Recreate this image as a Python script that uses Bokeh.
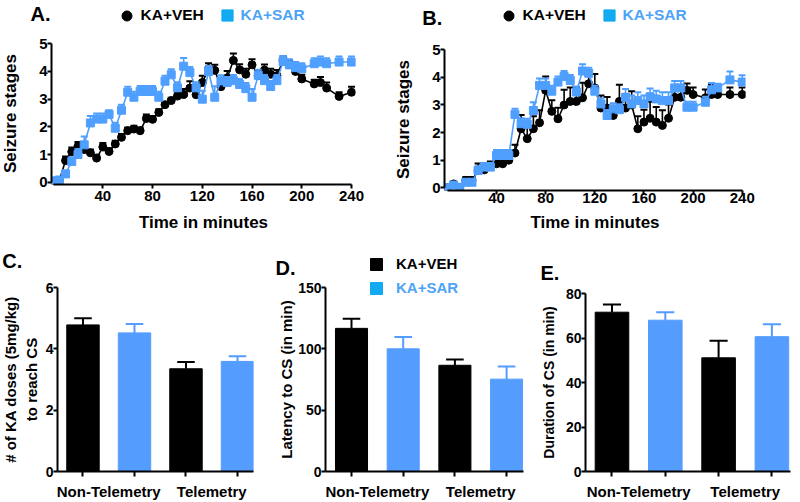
from bokeh.plotting import figure
from bokeh.models import Range1d, FixedTicker, Label, Legend, LegendItem, ColumnDataSource
from bokeh.embed import file_html
from bokeh.resources import INLINE

FONT = "Liberation Sans"
BLACK = "#000000"
BLUE_LINE = "#4F9FFF"
BLUE_BAR = "#559CFF"
BLUE_KEY = "#12AAF0"
BLUE_TEXT = "#4DA3F5"

# ---------------- data ----------------
times = [0, 5, 10, 15, 20, 25, 30, 35, 40, 45, 50, 55, 60, 65, 70, 75, 80, 85, 90, 95,
         100, 105, 110, 115, 120, 125, 130, 135, 140, 145, 150, 155, 160, 165, 170, 175,
         180, 185, 190, 195, 200, 210, 215, 220, 230, 240]
time_ticks = [40, 80, 120, 160, 200, 240]
stage_ticks = [0, 1, 2, 3, 4, 5]

a_veh = [0.0, 0.06, 0.78, 1.10, 1.30, 1.18, 1.06, 0.87, 1.27, 1.11, 1.38, 1.62, 1.86, 1.92, 1.86,
         2.30, 2.27, 2.52, 2.80, 2.95, 3.11, 3.17, 3.40, 3.16, 3.60, 4.10, 4.04, 3.45, 3.77, 4.40,
         4.06, 3.90, 4.24, 3.85, 4.05, 3.90, 3.85, 4.40, 4.25, 4.00, 3.73, 3.55, 3.60, 3.40, 3.10, 3.25]
a_veh_err = [0.0, 0.05, 0.15, 0.15, 0.15, 0.15, 0.12, 0.12, 0.15, 0.12, 0.12, 0.12, 0.12, 0.12, 0.12,
             0.15, 0.12, 0.12, 0.1, 0.1, 0.12, 0.2, 0.25, 0.15, 0.25, 0.2, 0.2, 0.15, 0.25, 0.25,
             0.2, 0.2, 0.2, 0.2, 0.2, 0.2, 0.2, 0.15, 0.15, 0.15, 0.15, 0.15, 0.2, 0.2, 0.15, 0.2]
a_sar = [0.05, 0.08, 0.30, 0.75, 1.00, 1.35, 2.14, 2.28, 2.28, 2.45, 1.95, 2.60, 3.25, 3.07, 3.28,
         3.28, 3.28, 3.07, 3.65, 3.88, 3.41, 4.19, 3.96, 3.41, 3.00, 4.00, 3.07, 3.66, 3.60, 3.67,
         3.53, 3.38, 3.07, 3.86, 3.67, 3.46, 3.67, 4.36, 4.24, 4.14, 4.10, 4.28, 4.34, 4.28, 4.34, 4.34]
a_sar_err = [0.03, 0.05, 0.12, 0.15, 0.2, 0.3, 0.25, 0.2, 0.2, 0.15, 0.2, 0.2, 0.2, 0.2, 0.2,
             0.2, 0.2, 0.2, 0.2, 0.2, 0.2, 0.3, 0.2, 0.2, 0.3, 0.2, 0.4, 0.2, 0.2, 0.2,
             0.2, 0.2, 0.3, 0.2, 0.2, 0.2, 0.2, 0.2, 0.2, 0.2, 0.2, 0.2, 0.2, 0.2, 0.2, 0.2]

b_veh = [0.0, 0.14, 0.0, 0.27, 0.27, 0.63, 0.65, 0.77, 0.87, 0.87, 1.0, 1.26, 2.14, 1.78, 2.14,
         2.36, 3.53, 2.77, 2.5, 3.0, 3.13, 3.13, 3.26, 3.77, 3.62, 2.89, 2.89, 2.62, 3.13, 2.89,
         3.0, 2.14, 2.38, 2.52, 2.38, 2.26, 2.52, 3.28, 3.28, 3.53, 3.38, 3.26, 3.38, 3.38, 3.38, 3.38]
b_veh_err = [0.0, 0.08, 0.0, 0.12, 0.12, 0.25, 0.2, 0.18, 0.15, 0.15, 0.15, 0.3, 0.5, 0.45, 0.45,
             0.45, 0.5, 0.4, 0.4, 0.55, 0.5, 0.5, 0.55, 0.5, 0.5, 0.45, 0.4, 0.2, 0.6, 0.5,
             0.5, 0.45, 0.45, 0.6, 0.55, 0.55, 0.5, 0.25, 0.25, 0.25, 0.25, 0.3, 0.35, 0.35, 0.25, 0.25]
b_sar = [0.0, 0.1, 0.02, 0.2, 0.2, 0.63, 0.75, 0.75, 1.17, 1.17, 1.17, 2.66, 2.32, 2.3, 2.8,
         3.71, 3.71, 3.5, 3.83, 4.03, 3.89, 3.47, 4.23, 4.15, 3.5, 3.04, 2.62, 2.86, 2.83, 3.28,
         3.04, 3.16, 3.04, 3.3, 3.22, 3.16, 3.16, 3.62, 3.62, 2.92, 2.92, 3.1, 3.55, 3.62, 3.91, 3.83]
b_sar_err = [0.02, 0.05, 0.05, 0.1, 0.1, 0.15, 0.15, 0.15, 0.2, 0.2, 0.2, 0.2, 0.2, 0.2, 0.3,
             0.25, 0.25, 0.2, 0.2, 0.2, 0.2, 0.2, 0.25, 0.2, 0.2, 0.2, 0.2, 0.2, 0.2, 0.3,
             0.3, 0.3, 0.3, 0.3, 0.3, 0.3, 0.3, 0.25, 0.25, 0.2, 0.2, 0.2, 0.25, 0.15, 0.3, 0.25]

groups = ["Non-Telemetry", "Telemetry"]
series_names = ["KA+VEH", "KA+SAR"]
c_veh = [4.78, 3.35]
c_veh_err = [0.22, 0.22]
c_sar = [4.52, 3.59]
c_sar_err = [0.29, 0.17]
c_ticks = [0, 2, 4, 6]

d_veh = [116.7, 86.6]
d_veh_err = [7.8, 4.8]
d_sar = [100.0, 75.3]
d_sar_err = [9.7, 10.2]
d_ticks = [0, 50, 100, 150]

e_veh = [71.6, 51.1]
e_veh_err = [3.5, 7.7]
e_sar = [68.0, 60.6]
e_sar_err = [3.6, 5.6]
e_ticks = [0, 20, 40, 60, 80]

ML, MT = 120, 60  # generous left/top borders; figures are placed so frames land where wanted


def base_fig(frame, right, bottom, xr, yr):
    fl, ft, fw, fh = frame
    p = figure(width=ML + fw + right, height=MT + fh + bottom, x_range=xr, y_range=yr,
               output_backend="svg", toolbar_location=None, title=None,
               min_border_left=ML, min_border_right=right, min_border_top=MT,
               min_border_bottom=bottom,
               styles={"position": "absolute", "left": f"{fl - ML}px", "top": f"{ft - MT}px"})
    p.xgrid.visible = False
    p.ygrid.visible = False
    p.outline_line_color = None
    p.background_fill_alpha = 0
    p.border_fill_alpha = 0
    for ax in (p.xaxis[0], p.yaxis[0]):
        ax.axis_line_width = 2
        ax.axis_line_color = BLACK
        ax.major_tick_line_width = 2
        ax.major_tick_line_color = BLACK
        ax.major_tick_in = 0
        ax.major_tick_out = 4
        ax.minor_tick_line_color = None
        ax.major_label_text_font = FONT
        ax.major_label_text_font_style = "bold"
        ax.major_label_text_color = BLACK
        ax.axis_label_text_font = FONT
        ax.axis_label_text_font_style = "bold"
        ax.axis_label_text_color = BLACK
    return p


def time_panel(frame, xr, yr, veh, veh_err, sar, sar_err, tick_stand, lab_stand, ylab_stand):
    p = base_fig(frame, 45, 80, xr, yr)
    p.xaxis.ticker = FixedTicker(ticks=time_ticks)
    p.yaxis.ticker = FixedTicker(ticks=stage_ticks)
    p.xaxis.bounds = (0, 240)
    p.yaxis.bounds = (0, 5)
    p.xaxis.major_label_text_font_size = "15px"
    p.yaxis.major_label_text_font_size = "15px"
    p.xaxis.axis_label = "Time in minutes"
    p.yaxis.axis_label = "Seizure stages"
    p.xaxis.axis_label_text_font_size = "17px"
    p.yaxis.axis_label_text_font_size = "17px"
    p.xaxis.major_label_standoff = tick_stand
    p.xaxis.axis_label_standoff = lab_stand
    p.yaxis.major_label_standoff = 0
    p.yaxis.axis_label_standoff = ylab_stand
    for vals, errs, col, mk in ((veh, veh_err, BLACK, "circle"), (sar, sar_err, BLUE_LINE, "square")):
        tops = [v + e for v, e in zip(vals, errs)]
        p.segment(times, vals, times, tops, line_color=col, line_width=1.6)
        p.scatter(times, tops, marker="dash", size=7, line_color=col, line_width=2)
        p.line(times, vals, line_color=col, line_width=1.6)
        p.scatter(times, vals, marker=mk, size=8, fill_color=col, line_color=col)
    return p


def bar_panel(frame, right, xr, yr, veh, veh_err, sar, sar_err, ticks,
              ylabel, ylab_size, ylab_stand, bw):
    p = base_fig(frame, right, 502 - frame[1] - frame[3], xr, yr)
    pos = [0, 1, 2, 3]
    vals = [veh[0], sar[0], veh[1], sar[1]]
    errs = [veh_err[0], sar_err[0], veh_err[1], sar_err[1]]
    cols = [BLACK, BLUE_BAR, BLACK, BLUE_BAR]
    tops = [v + e for v, e in zip(vals, errs)]
    p.segment(pos, vals, pos, tops, line_color=cols, line_width=2)
    p.segment([x - 0.17 for x in pos], tops, [x + 0.17 for x in pos], tops, line_color=cols, line_width=2)
    p.vbar(x=pos, top=vals, width=bw, fill_color=cols, line_color=cols)
    p.xaxis.ticker = FixedTicker(ticks=[0.5, 2.5], minor_ticks=pos)
    p.xaxis.major_label_overrides = {0.5: groups[0], 2.5: groups[1]}
    p.xaxis.major_tick_out = 0
    p.xaxis.major_tick_line_color = None
    p.xaxis.minor_tick_line_color = BLACK
    p.xaxis.minor_tick_line_width = 2
    p.xaxis.minor_tick_out = 5
    p.xaxis.minor_tick_in = 0
    p.xaxis.major_label_standoff = 6
    p.xaxis.major_label_text_font_size = "15px"
    p.yaxis.ticker = FixedTicker(ticks=ticks)
    p.yaxis.major_label_text_font_size = "14px"
    p.yaxis.major_label_standoff = 0
    p.yaxis.axis_label = ylabel
    p.yaxis.axis_label_text_font_size = ylab_size
    p.yaxis.axis_label_standoff = ylab_stand
    return p


# frames given as (left, top, width, height) in page pixels
pA = time_panel((51, 42, 304, 142), Range1d(-1.29, 243.2), Range1d(-0.083, 5.047),
                a_veh, a_veh_err, a_sar, a_sar_err, 2, 9, 16)
pB = time_panel((444, 48, 301, 142), Range1d(-2.36, 242.66), Range1d(-0.098, 5.047),
                b_veh, b_veh_err, b_sar, b_sar_err, -2, 7, 16)

pC = bar_panel((57, 287, 196, 186), 15, Range1d(-0.495, 3.311), Range1d(0, 6),
               c_veh, c_veh_err, c_sar, c_sar_err, c_ticks,
               "# of KA doses (5mg/kg)\nto reach CS", "15px", 3, 0.63)
pD = bar_panel((325, 287, 198, 186), 15, Range1d(-0.503, 3.327), Range1d(0, 150),
               d_veh, d_veh_err, d_sar, d_sar_err, d_ticks,
               "Latency to CS (in min)", "15px", 0, 0.62)
pE = bar_panel((585, 293, 205, 180), 10, Range1d(-0.497, 3.349), Range1d(0, 80),
               e_veh, e_veh_err, e_sar, e_sar_err, e_ticks,
               "Duration of CS (in min)", "14px", 6, 0.63)

# ---------- transparent overlay for panel letters and keys ----------
ov = figure(width=800, height=502, x_range=Range1d(0, 800), y_range=Range1d(502, 0),
            x_axis_location=None, y_axis_location=None, min_border=0, title=None,
            toolbar_location=None, output_backend="svg",
            styles={"position": "absolute", "left": "0px", "top": "0px", "pointer-events": "none"})
ov.background_fill_alpha = 0
ov.border_fill_alpha = 0
ov.outline_line_color = None
ov.grid.visible = False

for txt, x, y in (("A.", 30, 13.5), ("B.", 421.7, 17.7), ("C.", 1.7, 260),
                  ("D.", 275, 267), ("E.", 540, 272.5)):
    ov.add_layout(Label(x=x, y=y, text=txt, text_font=FONT, text_font_style="bold",
                        text_font_size="20px", text_baseline="alphabetic", text_color=BLACK))

# key glyph renderers hold one point outside the overlay's visible range
key_src = ColumnDataSource(dict(x=[-100], y=[-100]))


def key(marker, color, text, tcolor, loc, fsize, glyph, standoff):
    r = ov.scatter("x", "y", source=key_src, marker=marker, size=10, fill_color=color,
                   line_color=color)
    leg = Legend(items=[LegendItem(label=text, renderers=[r])], location=loc,
                 orientation="horizontal", padding=0, margin=0, border_line_color=None,
                 background_fill_alpha=0, label_text_font=FONT, label_text_font_style="bold",
                 label_text_font_size=fsize, label_text_color=tcolor, glyph_width=glyph,
                 glyph_height=glyph, label_standoff=standoff, label_height=20)
    ov.add_layout(leg)


key("circle", BLACK, series_names[0], BLACK, (113.5, 474.5), "15.5px", 25, 2)
key("square", BLUE_KEY, series_names[1], BLUE_TEXT, (212.5, 473), "15.5px", 28, 0)
key("circle", BLACK, series_names[0], BLACK, (495.5, 474.5), "15.5px", 25, 2)
key("square", BLUE_KEY, series_names[1], BLUE_TEXT, (594.5, 473), "15.5px", 28, 0)
key("square", BLACK, series_names[0], BLACK, (361, 223.5), "15px", 30, 5)
key("square", BLUE_KEY, series_names[1], BLUE_TEXT, (361, 199.5), "15px", 30, 5)

open("out.html", "w").write(file_html((pA, pB, pC, pD, pE, ov), INLINE))
